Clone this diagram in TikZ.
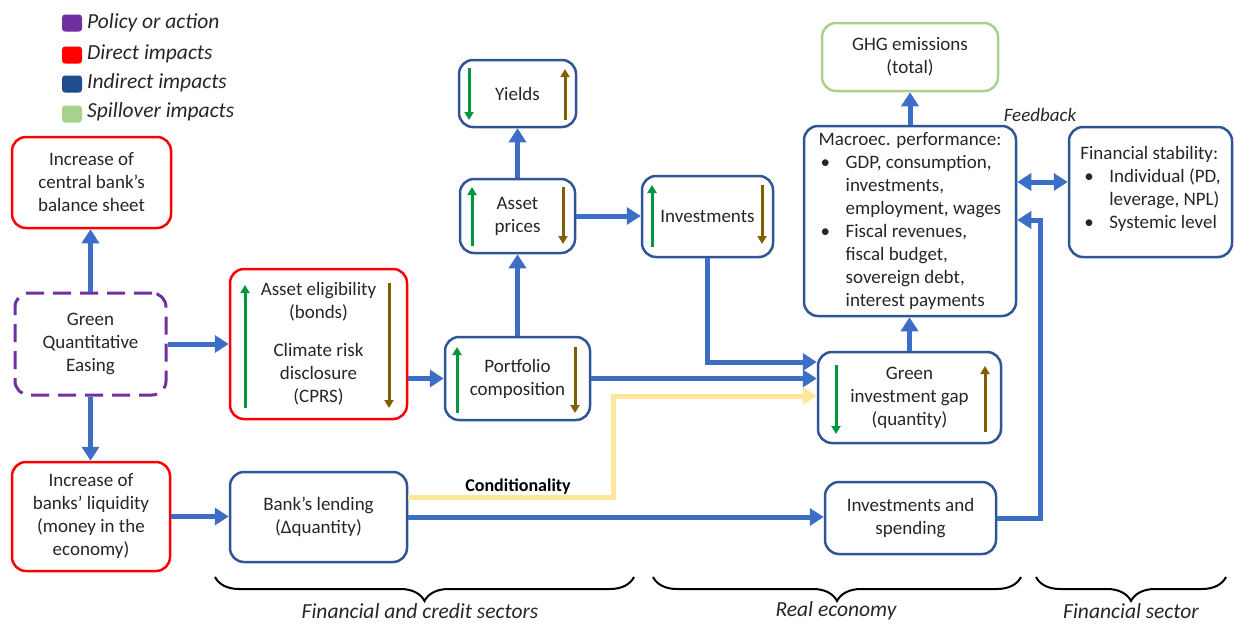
\documentclass[tikz,border=0pt]{standalone}
\usepackage{fontspec}
\setmainfont{Carlito}
\usetikzlibrary{arrows.meta,decorations.pathreplacing,calc}
\definecolor{flowblue}{RGB}{60,110,200}
\definecolor{boxblue}{RGB}{47,85,151}
\definecolor{legblue}{RGB}{31,78,140}
\definecolor{pur}{RGB}{112,48,160}
\definecolor{spill}{RGB}{169,209,142}
\definecolor{cond}{RGB}{255,230,153}
\definecolor{upgreen}{RGB}{0,150,64}
\definecolor{brown}{RGB}{127,96,0}
\definecolor{txt}{RGB}{38,38,38}
\begin{document}
\begin{tikzpicture}[x=1pt,y=-1pt,
  font=\fontsize{19}{23}\selectfont, text=txt,
  box/.style={draw, rounded corners=14pt, line width=2.5pt, align=center, inner sep=0pt},
  bbox/.style={box, draw=boxblue},
  rbox/.style={box, draw=red},
  gbox/.style={box, draw=spill},
  pbox/.style={box, draw=pur, line width=3pt, dash pattern=on 18pt off 9pt},
  flow/.style={draw=flowblue, line width=5pt, -{Triangle[length=14pt,width=17pt]}},
  condflow/.style={draw=cond, line width=5pt, -{Triangle[length=14pt,width=17pt]}},
  dflow/.style={draw=flowblue, line width=5pt, {Triangle[length=14pt,width=17pt]}-{Triangle[length=14pt,width=17pt]}},
  ga/.style={draw=upgreen, line width=3pt, -{Triangle[length=8pt,width=9pt]}},
  ba/.style={draw=brown, line width=3pt, -{Triangle[length=8pt,width=9pt]}},
  legsq/.style={rounded corners=3pt, minimum width=20pt, minimum height=17pt, inner sep=0pt},
  legtxt/.style={anchor=west, inner sep=0pt, font=\fontsize{21.5}{25}\selectfont\itshape},
  seclabel/.style={inner sep=0pt, font=\fontsize{21.5}{25}\selectfont\itshape},
  brc/.style={draw=black, line width=2pt, decorate, decoration={brace, mirror, amplitude=24pt}}
]
\useasboundingbox (0,0) rectangle (1234,624);

% legend
\node[legsq, fill=pur] (lp) at (72,23) {};
\node[legtxt] (lpt) at (87,23) {Policy or action};
\node[legsq, fill=red] (ld) at (72,55) {};
\node[legtxt] (ldt) at (87,54) {Direct impacts};
\node[legsq, fill=legblue] (li) at (72,84) {};
\node[legtxt] (lit) at (87,83) {Indirect impacts};
\node[legsq, fill=spill] (ls) at (72,114) {};
\node[legtxt] (lst) at (87,112) {Spillover impacts};

% boxes
\node[rbox, minimum width=159pt, minimum height=91pt] (cb) at (91.5,182.5)
  {Increase of\\central bank’s\\balance sheet};
\node[pbox, minimum width=151pt, minimum height=102pt] (qe) at (90.5,344)
  {Green\\Quantitative\\Easing};
\node[rbox, minimum width=158pt, minimum height=109pt] (liq) at (91,516.5)
  {Increase of\\banks’ liquidity\\(money in the\\economy)};
\node[rbox, minimum width=177pt, minimum height=150pt] (ae) at (318.5,344)
  {Asset eligibility\\(bonds)\\[15pt]Climate risk\\disclosure\\(CPRS)};
\node[bbox, minimum width=177pt, minimum height=90pt] (lend) at (318.5,517)
  {Bank’s lending\\(Δquantity)};
\node[bbox, minimum width=145pt, minimum height=83pt] (port) at (517.5,378.5)
  {Portfolio\\composition};
\node[bbox, minimum width=117pt, minimum height=67pt] (yld) at (517.5,93.5)
  {Yields};
\node[bbox, minimum width=115pt, minimum height=74pt] (ap) at (517.5,216)
  {Asset\\prices};
\node[bbox, minimum width=131pt, minimum height=81pt] (inv) at (707.5,216.5)
  {Investments};
\node[gbox, minimum width=176pt, minimum height=68pt] (ghg) at (910,57)
  {GHG emissions\\(total)};
\node[bbox, minimum width=212pt, minimum height=190pt] (mac) at (910,221)
  {\begin{tabular}{@{}l@{}l@{}}
   \multicolumn{2}{@{}l@{}}{Macroec. performance:}\\
   \makebox[27pt][l]{\hspace{2pt}\textbullet} & GDP, consumption,\\
   & investments,\\
   & employment, wages\\
   \makebox[27pt][l]{\hspace{2pt}\textbullet} & Fiscal revenues,\\
   & fiscal budget,\\
   & sovereign debt,\\
   & interest payments
   \end{tabular}};
\node[bbox, minimum width=163pt, minimum height=130pt] (fs) at (1150.5,192)
  {\begin{tabular}{@{}l@{}l@{}}
   \multicolumn{2}{@{}l@{}}{Financial stability:}\\
   \makebox[29pt][l]{\hspace{4pt}\textbullet} & Individual (PD,\\
   & leverage, NPL)\\
   \makebox[29pt][l]{\hspace{4pt}\textbullet} & Systemic level\\[6pt]
   \end{tabular}};
\node[bbox, minimum width=183pt, minimum height=91pt] (gap) at (909.5,397.5)
  {Green\\investment gap\\(quantity)};
\node[bbox, minimum width=171pt, minimum height=72pt] (spend) at (910.5,518)
  {Investments and\\spending};

% inner up/down arrows
\draw[ga] (245,408) -- (245,285);
\draw[ba] (389,283) -- (389,408);
\draw[ga] (457,413) -- (457,347);
\draw[ba] (575,347) -- (575,413);
\draw[ga] (469,68) -- (469,120);
\draw[ba] (565,120) -- (565,69);
\draw[ga] (472,246) -- (472,187);
\draw[ba] (563,187) -- (563,244);
\draw[ga] (652,247) -- (652,185);
\draw[ba] (762,185) -- (762,244);
\draw[ga] (836,365) -- (836,434);
\draw[ba] (985,432) -- (985,366);

% connectors
\draw[flow] (qe.north) -- (qe.north |- cb.south);
\draw[flow] (qe.south) -- (qe.south |- liq.north);
\draw[flow] (qe.east) -- (qe.east -| ae.west);
\draw[flow] (liq.east) -- (liq.east -| lend.west);
\draw[flow] (port.west -| ae.east) -- (port.west);
\draw[flow] (port.north) -- (port.north |- ap.south);
\draw[flow] (ap.north) -- (ap.north |- yld.south);
\draw[flow] (ap.east) -- (ap.east -| inv.west);
\coordinate (c1) at (613,396);
\draw[condflow] ([yshift=20pt]lend.east) -| (c1) -- (c1 -| gap.west);
\draw[flow] (inv.south) |- ([yshift=35.5pt]gap.west);
\draw[flow] (port.east) -- (port.east -| gap.west);
\draw[flow] (lend.east) -- (lend.east -| spend.west);
\coordinate (c2) at (1040,220);
\draw[flow] (spend.east) -| (c2) -- (c2 -| mac.east);
\draw[flow] (gap.north) -- (gap.north |- mac.south);
\draw[flow] (mac.north) -- (mac.north |- ghg.south);
\coordinate (c3) at (1040,182);
\draw[dflow] (c3 -| mac.east) -- (c3 -| fs.west);

\node[inner sep=0pt, font=\fontsize{19}{23}\selectfont\itshape] (fb) at (1040,115) {Feedback};
\node[inner sep=0pt, font=\fontsize{18}{23}\selectfont\bfseries, text=black] (cl) at (518,487) {Conditionality};

% braces
\draw[brc] (215,577) -- (634,577);
\draw[brc] (653,577) -- (1021,577);
\draw[brc] (1036,577) -- (1226,577);
\node[seclabel] (s1) at (420,611) {Financial and credit sectors};
\node[seclabel] (s2) at (836,611) {Real economy};
\node[seclabel] (s3) at (1131,611) {Financial sector};
\end{tikzpicture}
\end{document}
